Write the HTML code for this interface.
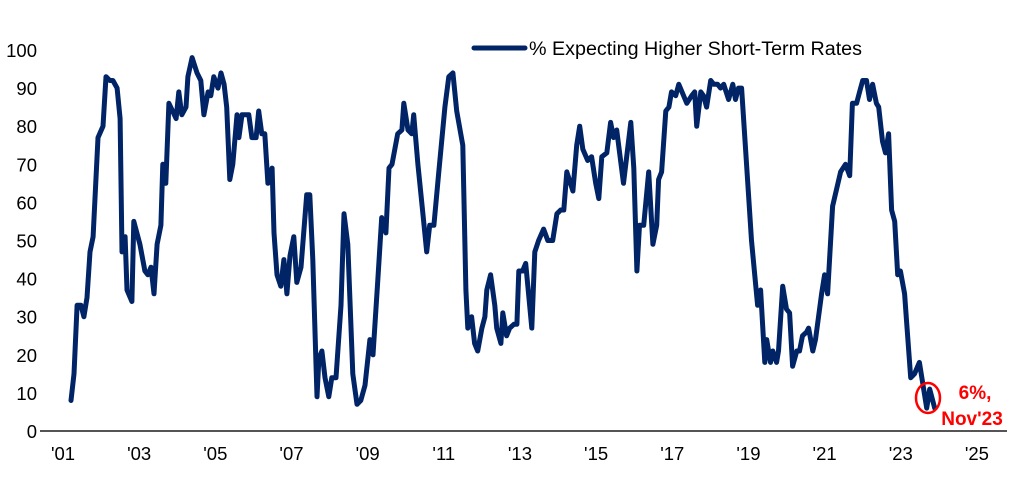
<!DOCTYPE html>
<html><head><meta charset="utf-8"><style>
html,body{margin:0;padding:0;background:#fff;}
svg{display:block;font-family:"Liberation Sans",Arial,sans-serif;}
</style></head><body>
<svg id="chart" width="1010" height="494" viewBox="0 0 1010 494" xmlns="http://www.w3.org/2000/svg">
<g id="yaxis"></g>
<g id="xaxis"></g>
<line x1="40" y1="431" x2="1007" y2="431" stroke="#555" stroke-width="2"/>
<path id="series" fill="none" stroke="#002466" stroke-width="5" stroke-linejoin="round" stroke-linecap="round"/>
<g>
<line x1="474" y1="48" x2="525" y2="48" stroke="#002466" stroke-width="5" stroke-linecap="round"/>
<text x="529" y="55" font-size="19" textLength="333" lengthAdjust="spacingAndGlyphs" fill="#000">% Expecting Higher Short-Term Rates</text>
</g>
<g>
<ellipse cx="928" cy="398" rx="12" ry="15" fill="none" stroke="#ff0000" stroke-width="2.5"/>
<text x="975" y="399" font-size="19" font-weight="bold" fill="#ff0000" text-anchor="middle">6%,</text>
<text x="972" y="425" font-size="19" font-weight="bold" fill="#ff0000" text-anchor="middle">Nov'23</text>
</g>
</svg>
<script>
const dates=[2001.21,2001.29,2001.37,2001.47,2001.55,2001.63,2001.71,2001.79,2001.92,2002.05,2002.13,2002.23,2002.31,2002.42,2002.50,2002.55,2002.63,2002.68,2002.81,2002.86,2003.02,2003.15,2003.23,2003.31,2003.39,2003.47,2003.57,2003.62,2003.70,2003.78,2003.97,2004.04,2004.12,2004.23,2004.28,2004.39,2004.52,2004.62,2004.70,2004.81,2004.88,2004.96,2005.07,2005.15,2005.23,2005.30,2005.38,2005.46,2005.57,2005.62,2005.70,2005.83,2005.88,2005.96,2006.07,2006.14,2006.22,2006.30,2006.38,2006.49,2006.54,2006.62,2006.72,2006.80,2006.88,2006.96,2007.06,2007.14,2007.25,2007.40,2007.48,2007.56,2007.67,2007.72,2007.80,2007.88,2007.98,2008.06,2008.17,2008.30,2008.38,2008.48,2008.61,2008.72,2008.82,2008.93,2009.06,2009.14,2009.27,2009.37,2009.48,2009.56,2009.64,2009.79,2009.90,2009.95,2010.06,2010.16,2010.21,2010.32,2010.45,2010.55,2010.63,2010.74,2010.87,2011.03,2011.13,2011.24,2011.34,2011.50,2011.58,2011.63,2011.73,2011.81,2011.89,2012.00,2012.08,2012.13,2012.23,2012.34,2012.39,2012.50,2012.55,2012.65,2012.73,2012.84,2012.92,2012.97,2013.07,2013.15,2013.31,2013.39,2013.49,2013.62,2013.73,2013.86,2013.97,2014.07,2014.15,2014.23,2014.39,2014.49,2014.57,2014.65,2014.78,2014.88,2014.99,2015.07,2015.15,2015.28,2015.38,2015.46,2015.54,2015.72,2015.91,2015.99,2016.07,2016.14,2016.25,2016.38,2016.49,2016.59,2016.64,2016.72,2016.83,2016.91,2016.98,2017.09,2017.17,2017.38,2017.51,2017.59,2017.64,2017.75,2017.82,2017.90,2018.01,2018.09,2018.19,2018.27,2018.35,2018.48,2018.59,2018.66,2018.74,2018.82,2019.08,2019.24,2019.32,2019.43,2019.48,2019.58,2019.64,2019.74,2019.79,2019.90,2020.00,2020.08,2020.16,2020.27,2020.34,2020.42,2020.53,2020.58,2020.69,2020.76,2020.92,2021.00,2021.08,2021.21,2021.42,2021.55,2021.66,2021.73,2021.84,2021.92,2022.00,2022.10,2022.18,2022.26,2022.36,2022.42,2022.52,2022.60,2022.68,2022.76,2022.84,2022.92,2022.99,2023.10,2023.15,2023.26,2023.36,2023.49,2023.68,2023.76,2023.89];
const values=[8,15,33,33,30,35,47,51,77,80,93,92,92,90,82,47,51,37,34,55,49,42,41,43,36,49,54,70,65,86,82,89,83,85,93,98,94,92,83,89,88,93,90,94,91,85,66,70,83,77,83,83,83,77,77,84,78,78,65,69,52,41,38,45,36,46,51,39,43,62,62,45,9,19,21,14,9,14,14,33,57,49,15,7,8,12,24,20,40,56,52,69,70,78,79,86,79,78,83,70,57,47,54,54,68,85,93,94,84,75,37,27,30,23,21,27,30,37,41,33,27,23,31,25,27,28,28,42,42,44,27,47,50,53,50,50,57,58,58,68,63,75,80,74,71,72,65,61,72,73,81,77,79,65,81,69,42,54,54,68,49,54,66,68,84,85,89,88,91,86,88,89,80,89,88,85,92,91,91,90,91,87,91,87,90,90,50,33,37,18,24,18,21,18,21,38,32,31,17,21,21,25,26,27,21,24,36,41,36,59,68,70,67,86,86,89,92,92,87,91,86,85,76,73,78,58,55,41,42,36,29,14,15,18,6,11,6];
const yTicks=[0,10,20,30,40,50,60,70,80,90,100];
const xTickYears=[2001,2003,2005,2007,2009,2011,2013,2015,2017,2019,2021,2023,2025];
const xTickLabels=["'01","'03","'05","'07","'09","'11","'13","'15","'17","'19","'21","'23","'25"];
const NS="http://www.w3.org/2000/svg";
const x=d=>63+(d-2001)*38.08;
const y=v=>431-v*3.81;
const ya=document.getElementById('yaxis');
yTicks.forEach(t=>{
  const el=document.createElementNS(NS,'text');
  
  
  el.setAttribute('x',37);el.setAttribute('y',y(t)+7);
  el.setAttribute('text-anchor','end');el.setAttribute('font-size','18.5');
  el.textContent=t;ya.appendChild(el);
});
const xa=document.getElementById('xaxis');
xTickYears.forEach((t,i)=>{
  const el=document.createElementNS(NS,'text');
  
  
  el.setAttribute('x',x(t));el.setAttribute('y',460);
  el.setAttribute('text-anchor','middle');el.setAttribute('font-size','18.5');
  el.textContent=xTickLabels[i];xa.appendChild(el);
});
document.getElementById('series').setAttribute('d',dates.map((d,i)=>(i?'L':'M')+x(d).toFixed(1)+' '+y(values[i]).toFixed(1)).join(' '));
</script>
</body></html>
